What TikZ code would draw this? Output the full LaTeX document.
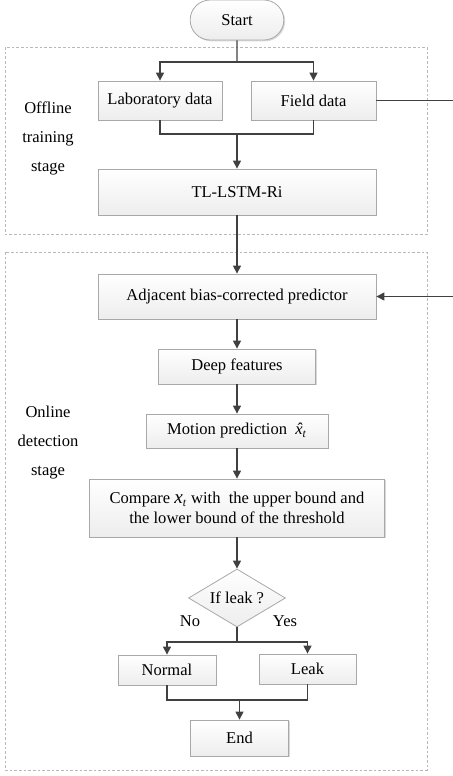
\documentclass[tikz,border=0pt]{standalone}
\usepackage{fontspec}
\setmainfont{Liberation Serif}
\usetikzlibrary{arrows.meta,shapes.geometric,shapes.misc,shadows}

\definecolor{linegray}{HTML}{404040}
\definecolor{edgegray}{HTML}{A8A8A8}
\definecolor{dashgray}{HTML}{B8B8B8}

\newcommand{\predx}{{\itshape\ooalign{x\cr\hidewidth\char"02C6\hidewidth\cr}}\textsubscript{\textit{t}}}
\newcommand{\measx}{{\Large\textit{x}}\textsubscript{\textit{t}}}

\begin{document}
\begin{tikzpicture}[x=0.75pt, y=-0.75pt,
    every node/.style={font=\fontsize{12.4}{14.5}\selectfont},
    procbox/.style={draw=edgegray, line width=0.6pt, top color=white, bottom color=gray!14,
        drop shadow={shadow xshift=1pt, shadow yshift=-1pt, opacity=0.3},
        align=center, inner sep=2pt},
    startbox/.style={procbox, rounded rectangle},
    decision/.style={draw=edgegray, line width=0.6pt, top color=white, bottom color=gray!14,
        diamond, inner sep=0pt, minimum width=72.75pt, minimum height=43.5pt, aspect=1.67},
    stagelabel/.style={align=center, font=\fontsize{12.4}{21.75}\selectfont},
    stageframe/.style={draw=dashgray, line width=0.6pt, dash pattern=on 2pt off 1.5pt},
    flowline/.style={draw=linegray, line width=0.9pt},
    arrowline/.style={flowline, -{Triangle[length=6pt,width=6pt]}, color=linegray}
]
    \useasboundingbox (0,0) rectangle (453,776);

    % Stage frames
    \draw[stageframe] (5,47) rectangle (427,234);
    \draw[stageframe] (5,252) rectangle (427,770);

    % Stage labels
    \node[stagelabel] (offlbl) at (48,138) {Offline\\training\\stage};
    \node[stagelabel] (onlbl) at (48,443) {Online\\detection\\stage};

    % Offline stage
    \node[startbox, minimum width=74.25pt, minimum height=30pt] (start) at (237,20) {Start};
    \node[procbox, minimum width=93pt, minimum height=29.25pt] (lab) at (160,100.5) {Laboratory data};
    \node[procbox, minimum width=93.75pt, minimum height=29.25pt] (field) at (313.5,100.5) {Field data};
    \node[procbox, minimum width=208.5pt, minimum height=34.5pt] (tl) at (237,192) {TL-LSTM-Ri};

    % Online stage
    \node[procbox, minimum width=208.5pt, minimum height=33.75pt] (adj) at (237,296.5) {Adjacent bias-corrected predictor};
    \node[procbox, minimum width=117.75pt, minimum height=26.25pt] (deep) at (237,366.5) {Deep features};
    \node[procbox, minimum width=136.5pt, minimum height=25.5pt] (motion) at (237,431) {Motion prediction\ \ \predx};
    \node[procbox, minimum width=221.25pt, minimum height=43.5pt] (compare) at (237,508)
        {Compare \measx\ with\ \ the upper bound and\\the lower bound of the threshold};
    \node[decision] (leakq) at (237,598) {If leak ?};
    \node (nolbl) at (190,621) {No};
    \node (yeslbl) at (285,621) {Yes};
    \node[procbox, minimum width=73.5pt, minimum height=22.5pt] (normal) at (167,670) {Normal};
    \node[procbox, minimum width=72.75pt, minimum height=22.5pt] (leak) at (307.5,669) {Leak};
    \node[procbox, minimum width=73.5pt, minimum height=27pt] (end) at (239.5,738) {End};

    % Junctions
    \coordinate (fork) at (237,62);
    \coordinate (merge) at (237,134);
    \coordinate (feed) at (462,100.5);
    \coordinate (split) at (237,642);
    \coordinate (join) at (239.5,700);

    % Connectors
    \draw[flowline] (start) -- (fork);
    \draw[arrowline] (fork) -| (lab);
    \draw[arrowline] (fork) -| (field);
    \draw[flowline] (lab) |- (merge);
    \draw[flowline] (field) |- (merge);
    \draw[arrowline] (merge) -- (tl);
    \draw[arrowline] (tl) -- (adj);
    \draw[arrowline] (field) -- (feed) |- (adj);
    \draw[arrowline] (adj) -- (deep);
    \draw[arrowline] (deep) -- (motion);
    \draw[arrowline] (motion) -- (compare);
    \draw[arrowline] (compare) -- (leakq);
    \draw[flowline] (leakq) -- (split);
    \draw[arrowline] (split) -| (normal);
    \draw[arrowline] (split) -| (leak);
    \draw[flowline] (normal) |- (join);
    \draw[flowline] (leak) |- (join);
    \draw[arrowline] (join) -- (end);
\end{tikzpicture}
\end{document}
